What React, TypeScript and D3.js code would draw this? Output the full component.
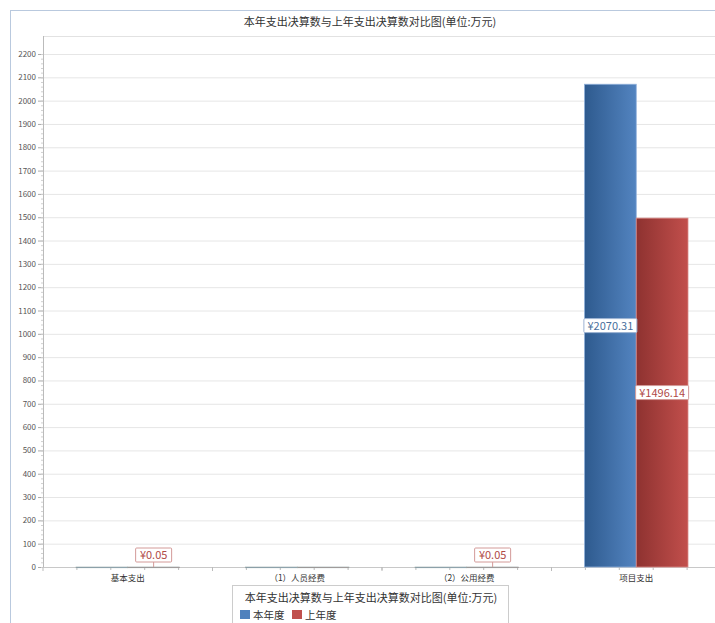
import React from "react";
import * as d3 from "d3";

const categories = ["基本支出", "（1）人员经费", "（2）公用经费", "项目支出"];
const seriesNames = ["本年度", "上年度"];
const currentYear = [0, 0, 0, 2070.31];
const lastYear = [0.05, 0, 0.05, 1496.14];
const yTicks = d3.range(0, 2201, 100);
const chartTitle = "本年支出决算数与上年支出决算数对比图(单位:万元)";

const W = 715;
const H = 623;
const FONT = '"Microsoft YaHei", "Noto Sans CJK SC", sans-serif';

export default function App() {
  const left = 43;
  const right = 721;
  const top = 36;
  const bottom = 567;
  const y = d3.scaleLinear().domain([0, 2200]).range([bottom, 54]);
  const x0 = d3.scaleBand<string>().domain(categories).range([left, right]).padding(0);
  const bw = x0.bandwidth();
  const x1 = d3.scaleBand<string>().domain(seriesNames).range([33, bw - 33]).padding(0);
  const colors = ["#4f81bd", "#c0504d"];
  const textColors = ["#4a6f9c", "#b04a47"];
  const borderColors = ["#9db3d3", "#d39a98"];
  const series = [currentYear, lastYear];
  const minor = d3.range(0, 2201, 20);
  const xMinor: number[] = [];
  categories.forEach((c) => {
    for (let i = 0; i <= 5; i++) xMinor.push((x0(c) as number) + (bw * i) / 5);
  });

  return (
    <svg width={W} height={H} style={{ position: "absolute", left: 0, top: 0, background: "#fff" }} fontFamily={FONT}>
      <defs>
        <linearGradient id="gBlue" x1="0" x2="1" y1="0" y2="0">
          <stop offset="0" stopColor="#2e5a8e" />
          <stop offset="1" stopColor="#5384c0" />
        </linearGradient>
        <linearGradient id="gRed" x1="0" x2="1" y1="0" y2="0">
          <stop offset="0" stopColor="#8e3230" />
          <stop offset="1" stopColor="#c24f4c" />
        </linearGradient>
      </defs>
      <rect x={10.5} y={10.5} width={W} height={H} fill="#fff" stroke="#b9c9de" />
      <text x={370} y={26} textAnchor="middle" fontSize={11} fill="#333">{chartTitle}</text>
      <line x1={left} x2={W} y1={top + 0.5} y2={top + 0.5} stroke="#e2e2e2" />
      {yTicks.map((t) => (
        <g key={t}>
          <line x1={left} x2={W} y1={y(t) + 0.5} y2={y(t) + 0.5} stroke={t === 0 ? "#c8c8c8" : "#e6e6e6"} />
          <line x1={38} x2={left} y1={y(t) + 0.5} y2={y(t) + 0.5} stroke="#aaa" />
          <text x={36} y={y(t) + 3} textAnchor="end" fontSize={8} fill="#555">{t}</text>
        </g>
      ))}
      {minor.map((t) => (
        <line key={"m" + t} x1={41} x2={left} y1={y(t) + 0.5} y2={y(t) + 0.5} stroke="#d0d0d0" />
      ))}
      <line x1={left + 0.5} x2={left + 0.5} y1={top} y2={bottom} stroke="#bbb" />
      {xMinor.map((v, i) => (
        <line key={"xm" + i} x1={v} x2={v} y1={bottom} y2={bottom + (i % 6 === 0 ? 4 : 3)} stroke="#bbb" />
      ))}
      {categories.map((c) => (
        <text key={c} x={(x0(c) as number) + bw / 2} y={581} textAnchor="middle" fontSize={8.5} fill="#333">{c}</text>
      ))}
      {categories.map((c, ci) =>
        series.map((s, si) => {
          const v = s[ci];
          const bx = (x0(c) as number) + (x1(seriesNames[si]) as number);
          const bwid = x1.bandwidth();
          const yt = y(v);
          return (
            <rect key={c + si} x={bx} y={yt} width={bwid} height={Math.max(0.8, bottom - yt)}
              fill={si === 0 ? "url(#gBlue)" : "url(#gRed)"} stroke={v > 100 ? (si === 0 ? "#8fb0da" : "#d98a88") : "#9aa"} strokeWidth={v > 100 ? 0.8 : 0.6} />
          );
        })
      )}
      {categories.map((c, ci) =>
        series.map((s, si) => {
          const v = s[ci];
          if (v <= 0) return null;
          const bx = (x0(c) as number) + (x1(seriesNames[si]) as number);
          const bwid = x1.bandwidth();
          const cx = bx + bwid / 2;
          const label = "¥" + v.toFixed(2);
          if (v > 100) {
            const cy = (y(v) + bottom) / 2;
            const w = 53;
            return (
              <g key={"l" + c + si}>
                <rect x={cx - w / 2} y={cy - 7} width={w} height={14} fill="#fff" stroke={borderColors[si]} rx={1} />
                <text x={cx} y={cy + 4} textAnchor="middle" fontSize={11} fill={textColors[si]}>{label}</text>
              </g>
            );
          }
          const w = 36;
          return (
            <g key={"l" + c + si}>
              <line x1={cx} x2={cx} y1={bottom - 5} y2={bottom} stroke={borderColors[si]} />
              <rect x={cx - w / 2} y={548} width={w} height={14} fill="#fff" stroke={borderColors[si]} rx={1} />
              <text x={cx} y={559} textAnchor="middle" fontSize={11} fill={textColors[si]}>{label}</text>
            </g>
          );
        })
      )}
      <rect x={232.5} y={585.5} width={276} height={60} fill="#fff" stroke="#ccc" />
      <text x={371} y={602} textAnchor="middle" fontSize={11} fill="#333">{chartTitle}</text>
      {seriesNames.map((n, i) => (
        <g key={n} transform={`translate(${240 + i * 52},610)`}>
          <rect x={0} y={0} width={10} height={9} fill={colors[i]} />
          <text x={13} y={9} fontSize={10.5} fill="#333">{n}</text>
        </g>
      ))}
    </svg>
  );
}
